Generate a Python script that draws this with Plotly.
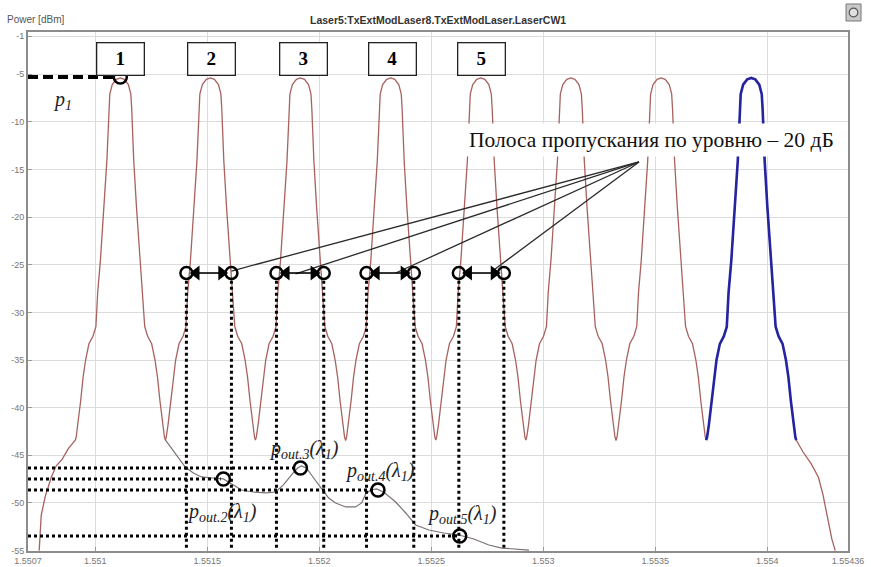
import plotly.graph_objects as go

# ---------------- data ----------------
x_tickvals = [1.5507, 1.551, 1.5515, 1.552, 1.5525, 1.553, 1.5535, 1.554, 1.55436]
x_ticktext = ["1.5507", "1.551", "1.5515", "1.552", "1.5525", "1.553", "1.5535", "1.554", "1.55436"]
y_tickvals = [-1, -5, -10, -15, -20, -25, -30, -35, -40, -45, -50, -55]
y_ticktext = ["-1", "-5", "-10", "-15", "-20", "-25", "-30", "-35", "-40", "-45", "-50", "-55"]

# channel centre wavelengths (um), channels 1..8
peak_centers = [1.551112, 1.551514, 1.551916, 1.552319, 1.552721, 1.553123, 1.553526, 1.553928]
# one-sided shape of each channel peak: offset from centre (pm) and power (dBm)
profile_offset_pm = [0, 18, 36, 47, 51, 54, 60, 72, 89, 101, 109, 122, 140, 155, 166, 177, 189, 197, 201]
profile_power = [-5.4, -5.55, -6.1, -7.1, -8.7, -10.9, -14.1, -18.9, -24.6, -27.9, -31.5, -32.5,
                 -33.3, -35.0, -36.8, -39.3, -41.8, -43.1, -43.4]
# outer skirts of the first and last channel
left_tail_offset_pm = [-362, -353, -335, -308, -286, -259, -232]
left_tail_power = [-55.0, -51.3, -49.3, -47.3, -46.1, -45.4, -44.3]
right_tail_offset_pm = [230, 268, 300, 320, 340, 360, 375]
right_tail_power = [-44.6, -45.9, -47.3, -49.1, -51.3, -53.8, -55.0]

# residual of channel 1 after the filters (thin curve at the bottom)
leak_x = [1.551313, 1.551362, 1.551402, 1.551438, 1.551474, 1.551523, 1.551572, 1.551617, 1.551653,
          1.551706, 1.551764, 1.551805, 1.55184, 1.551876, 1.551903, 1.551921, 1.551943, 1.551975,
          1.55201, 1.552042, 1.552073, 1.552118, 1.552162, 1.552189, 1.552207, 1.552229, 1.552256,
          1.552287, 1.552341, 1.552386, 1.55243, 1.552489, 1.552556, 1.552623, 1.55269, 1.552757,
          1.552815, 1.552936]
leak_y = [-43.39, -44.97, -46.23, -46.86, -47.27, -47.38, -47.48, -48.11, -48.64,
          -48.85, -48.95, -48.85, -48.11, -47.06, -46.33, -46.12, -46.33, -47.38,
          -48.43, -49.48, -50.0, -50.42, -50.42, -50.0, -49.06, -48.64, -48.53,
          -48.85, -49.9, -51.05, -52.31, -52.84, -53.15, -53.36, -53.78, -54.41,
          -54.73, -54.94]

# measured points p1, pout2..pout5
p_x = [1.551112, 1.551572, 1.551916, 1.552262, 1.552627]
p_y = [-5.30, -47.48, -46.33, -48.64, -53.47]
p_labels = ["<i>p<sub>1</sub></i>",
            "<i>p<sub>out.2</sub>(λ<sub>1</sub>)</i>",
            "<i>p<sub>out.3</sub>(λ<sub>1</sub>)</i>",
            "<i>p<sub>out.4</sub>(λ<sub>1</sub>)</i>",
            "<i>p<sub>out.5</sub>(λ<sub>1</sub>)</i>"]
p_label_x = [1.550852, 1.551568, 1.55193, 1.55227, 1.552636]
p_label_y = [-7.72, -50.95, -44.44, -46.65, -51.16]

# -20 dB passband edges of filters 2..5
bw_left_x = [1.551407, 1.551809, 1.552211, 1.552623]
bw_right_x = [1.551608, 1.55202, 1.552422, 1.552824]
bw_level = -25.87

# numbered filter boxes
box_labels = ["1", "2", "3", "4", "5"]
box_x = [1.551112, 1.551519, 1.55193, 1.552328, 1.552726]
box_y = -3.41

# callout text and its pointer lines
callout_text = "Полоса пропускания по уровню – 20 дБ"
callout_x, callout_y = 1.553481, -11.91
pointer_from = (1.553427, -14.22)
pointer_to_x = [1.551608, 1.551894, 1.552341, 1.552779]
pointer_to_y = [-25.66, -25.97, -25.87, -25.55]

X_MIN, X_MAX = 1.5507, 1.55436
Y_MIN, Y_MAX = -55.04, -0.58
ARROW_GAP = 0.000044  # distance of arrow heads from edge circles (um)

# ---------------- build curves ----------------
def peak_xy(center, lo=-201, hi=201):
    xs, ys = [], []
    for o, p in zip(reversed(profile_offset_pm), reversed(profile_power)):
        if -o >= lo:
            xs.append(center - o * 1e-6); ys.append(p)
    for o, p in zip(profile_offset_pm[1:], profile_power[1:]):
        if o <= hi:
            xs.append(center + o * 1e-6); ys.append(p)
    return xs, ys

red_x, red_y = [], []
for o, p in zip(left_tail_offset_pm, left_tail_power):
    red_x.append(peak_centers[0] + o * 1e-6); red_y.append(p)
for c in peak_centers:
    xs, ys = peak_xy(c)
    red_x += xs; red_y += ys
for o, p in zip(right_tail_offset_pm, right_tail_power):
    red_x.append(peak_centers[-1] + o * 1e-6); red_y.append(p)

blue_x, blue_y = peak_xy(peak_centers[-1])

fig = go.Figure()

fig.add_trace(go.Scatter(x=red_x, y=red_y, mode="lines",
                         line=dict(color="#a8625e", width=1.3), hoverinfo="skip"))
fig.add_trace(go.Scatter(x=leak_x, y=leak_y, mode="lines",
                         line=dict(color="#7d7272", width=1.2), hoverinfo="skip"))
fig.add_trace(go.Scatter(x=blue_x, y=blue_y, mode="lines",
                         line=dict(color="#2424a0", width=2.6), hoverinfo="skip"))

# dotted verticals from passband edges
vx, vy = [], []
for x in bw_left_x + bw_right_x:
    vx += [x, x, None]; vy += [bw_level - 0.8, -55.0, None]
# dotted horizontals to pout points
for x, y in zip(p_x[1:], p_y[1:]):
    vx += [X_MIN, x - 0.000012, None]; vy += [y, y, None]
fig.add_trace(go.Scatter(x=vx, y=vy, mode="lines",
                         line=dict(color="black", width=3, dash="3px,3px"), hoverinfo="skip"))

# p1 dashed
fig.add_trace(go.Scatter(x=[X_MIN, p_x[0] - 0.00003], y=[p_y[0], p_y[0]], mode="lines",
                         line=dict(color="black", width=4, dash="10px,5px"), hoverinfo="skip"))

# pointer lines
px_, py_ = [], []
for tx, ty in zip(pointer_to_x, pointer_to_y):
    px_ += [pointer_from[0], tx, None]; py_ += [pointer_from[1], ty, None]
fig.add_trace(go.Scatter(x=px_, y=py_, mode="lines",
                         line=dict(color="#2a2a2a", width=1.3), hoverinfo="skip"))

# double arrows between passband edges (line + triangle heads)
ax_, ay_ = [], []
for lx, rx in zip(bw_left_x, bw_right_x):
    ax_ += [lx + ARROW_GAP, rx - ARROW_GAP, None]; ay_ += [bw_level, bw_level, None]
fig.add_trace(go.Scatter(x=ax_, y=ay_, mode="lines",
                         line=dict(color="black", width=1.6), hoverinfo="skip"))
fig.add_trace(go.Scatter(x=[lx + ARROW_GAP for lx in bw_left_x], y=[bw_level] * 4, mode="markers",
                         marker=dict(symbol="triangle-left", size=13, color="black"), hoverinfo="skip"))
fig.add_trace(go.Scatter(x=[rx - ARROW_GAP for rx in bw_right_x], y=[bw_level] * 4, mode="markers",
                         marker=dict(symbol="triangle-right", size=13, color="black"), hoverinfo="skip"))

# circles
fig.add_trace(go.Scatter(x=bw_left_x + bw_right_x, y=[bw_level] * 8, mode="markers",
                         marker=dict(symbol="circle-open", size=12, color="black",
                                     line=dict(width=2.5, color="black")), hoverinfo="skip"))
fig.add_trace(go.Scatter(x=p_x, y=p_y, mode="markers",
                         marker=dict(symbol="circle-open", size=13, color="black",
                                     line=dict(width=2.5, color="black")), hoverinfo="skip"))

annotations = []
# boxes
for t, x in zip(box_labels, box_x):
    annotations.append(dict(x=x, y=box_y, xref="x", yref="y", text="<b>" + t + "</b>",
                            showarrow=False, bgcolor="white", bordercolor="#222",
                            borderwidth=1.3, width=44, height=29,
                            font=dict(family="Liberation Serif", size=19, color="black")))
# p labels
for t, x, y in zip(p_labels, p_label_x, p_label_y):
    annotations.append(dict(x=x, y=y, xref="x", yref="y", text=t, showarrow=False,
                            font=dict(family="Liberation Serif", size=20, color="#222")))
# callout
annotations.append(dict(x=callout_x, y=callout_y, xref="x", yref="y", text=callout_text,
                        showarrow=False, bgcolor="white", borderpad=4,
                        font=dict(family="Liberation Serif", size=21.5, color="#111")))
# header texts
annotations.append(dict(x=0.5, y=1.0385, xref="paper", yref="paper",
                        text="<b>Laser5:TxExtModLaser8.TxExtModLaser.LaserCW1</b>",
                        showarrow=False, font=dict(family="Liberation Sans", size=10.5, color="#333")))
annotations.append(dict(x=-0.028, y=1.0385, xref="paper", yref="paper", xanchor="left",
                        text="Power [dBm]", showarrow=False,
                        font=dict(family="Liberation Sans", size=10, color="#555")))

shapes = [
    dict(type="rect", xref="paper", yref="paper", x0=0.9976, x1=1.0159, y0=1.0212, y1=1.054,
         line=dict(color="#777", width=1), fillcolor="#c8c8c8"),
    dict(type="circle", xref="paper", yref="paper", x0=1.0015, x1=1.012, y0=1.029, y1=1.046,
         line=dict(color="#555", width=1.2), fillcolor="#e0e0e0"),
]

axis_common = dict(showgrid=True, gridcolor="#dcdcdc", gridwidth=1, zeroline=False,
                   showline=True, linecolor="#8c8c8c", linewidth=2, mirror=True,
                   ticks="inside", ticklen=4, tickcolor="#999",
                   tickfont=dict(family="Liberation Sans", size=9, color="#777"))

fig.update_layout(
    template="none",
    width=871, height=567, autosize=False,
    margin=dict(l=28, r=23, t=32, b=16),
    paper_bgcolor="white", plot_bgcolor="white",
    showlegend=False,
    xaxis=dict(range=[X_MIN, X_MAX], tickvals=x_tickvals, ticktext=x_ticktext, **axis_common),
    yaxis=dict(range=[Y_MIN, Y_MAX], tickvals=y_tickvals, ticktext=y_ticktext, **axis_common),
    annotations=annotations,
    shapes=shapes,
)

fig.write_html("out.html")
